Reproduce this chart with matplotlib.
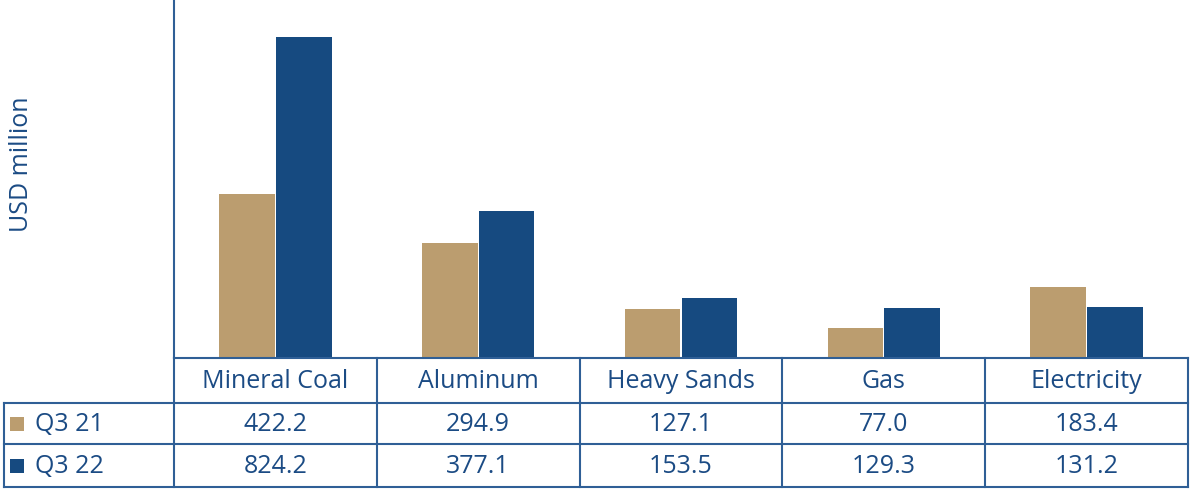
import numpy as np
import matplotlib
matplotlib.use('Agg')
import matplotlib.pyplot as plt
from matplotlib.patches import Rectangle

# Exportações por produto (USD milhões)
categories = ['Mineral Coal', 'Aluminum', 'Heavy Sands', 'Gas', 'Electricity']
series_names = ['Q3 21', 'Q3 22']
q3_21 = [422.2, 294.9, 127.1, 77.0, 183.4]
q3_22 = [824.2, 377.1, 153.5, 129.3, 131.2]

tan = '#BB9D6F'
blue = '#164A80'
text_col = '#1B4B84'
line_col = '#2F5F96'

plt.rcParams['font.family'] = ['Open Sans', 'DejaVu Sans']
fs = 18

W, H = 1190, 490
fig = plt.figure(figsize=(W / 100, H / 100), dpi=100)

# geometria (pixels)
left, right = 174, 1188
base = 358
row_edges = [358, 403, 444, 487]
table_left = 4

ax = fig.add_axes([left / W, 1 - base / H, (right - left) / W, base / H])
x = np.arange(len(categories))
bw = 0.275
ax.bar(x - bw / 2 - 0.0025, q3_21, bw, color=tan, linewidth=0)
ax.bar(x + bw / 2 + 0.0025, q3_22, bw, color=blue, linewidth=0)
ax.set_xlim(-0.5, len(categories) - 0.5)
ax.set_ylim(0, 920)
ax.set_xticks([])
ax.set_yticks([])
for s in ['top', 'right', 'bottom']:
    ax.spines[s].set_visible(False)
ax.spines['left'].set_color(line_col)
ax.spines['left'].set_linewidth(1.5)

fig.text(22 / W, 1 - 164 / H, 'USD million', rotation=90, ha='center', va='center',
         fontsize=fs, color=text_col)

# tabela de dados embaixo do gráfico
tax = fig.add_axes([0, 0, 1, 1])
tax.set_xlim(0, W)
tax.set_ylim(H, 0)
tax.axis('off')

col_w = (right - left) / len(categories)
col_edges = [left + i * col_w for i in range(len(categories) + 1)]
lw = 1.5

# linhas horizontais
tax.plot([left, right], [row_edges[0]] * 2, color=line_col, lw=lw)
for y in row_edges[1:]:
    tax.plot([table_left, right], [y, y], color=line_col, lw=lw)
# linhas verticais
tax.plot([table_left, table_left], [row_edges[1], row_edges[-1]], color=line_col, lw=lw)
for xe in col_edges:
    tax.plot([xe, xe], [row_edges[0], row_edges[-1]], color=line_col, lw=lw)

def mid(a, b):
    return (a + b) / 2

for i, cat in enumerate(categories):
    cx = mid(col_edges[i], col_edges[i + 1])
    tax.text(cx, mid(row_edges[0], row_edges[1]) + 1, cat, ha='center', va='center',
             fontsize=fs, color=text_col)
    for r, vals in enumerate([q3_21, q3_22]):
        tax.text(cx, mid(row_edges[r + 1], row_edges[r + 2]) + 1, f'{vals[i]:.1f}',
                 ha='center', va='center', fontsize=fs, color=text_col)

for r, (name, col) in enumerate(zip(series_names, [tan, blue])):
    cy = mid(row_edges[r + 1], row_edges[r + 2])
    tax.add_patch(Rectangle((10, cy - 7), 14, 14, color=col, lw=0))
    tax.text(35, cy + 1, name, ha='left', va='center', fontsize=fs, color=text_col)

fig.savefig('out.png', dpi=100)
